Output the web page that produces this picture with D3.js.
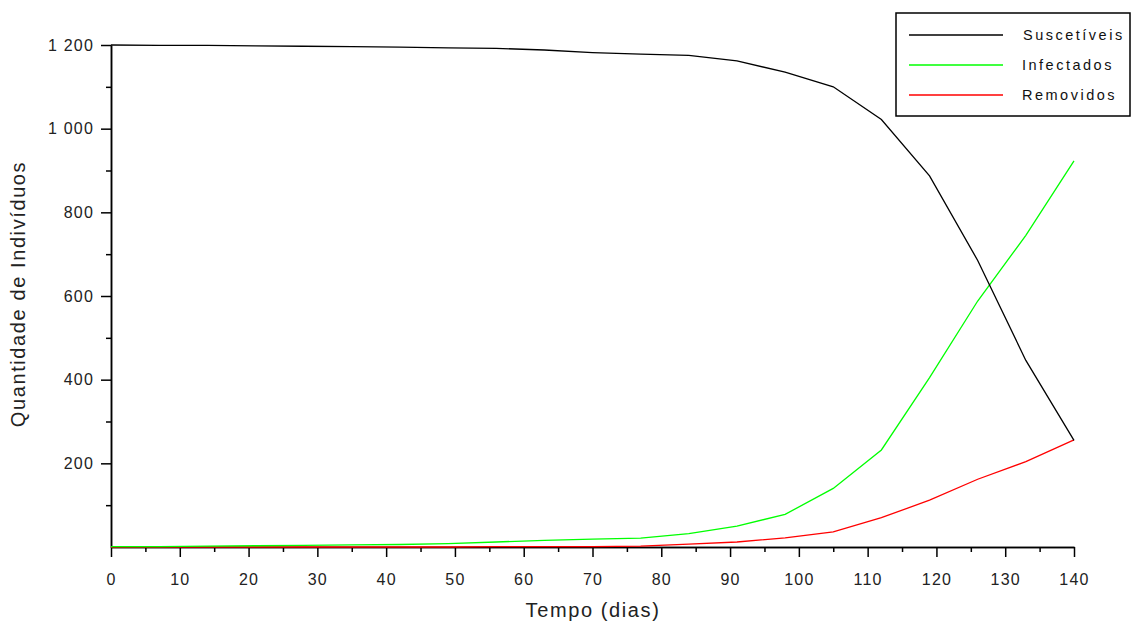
<!DOCTYPE html>
<meta charset="utf-8">
<style>

body {
  margin: 0;
  background: #fff;
}

.axis path,
.axis line {
  fill: none;
  stroke: #000;
  stroke-width: 1.5px;
}

.axis text {
  font: 16px "Liberation Sans", Arial, sans-serif;
  letter-spacing: 1.2px;
  fill: #222;
}

.line {
  fill: none;
  stroke-width: 1.3px;
}

.label {
  font: 20px "Liberation Sans", Arial, sans-serif;
  letter-spacing: 1.6px;
  fill: #222;
}

.legend text {
  font: 14.5px "Liberation Sans", Arial, sans-serif;
  letter-spacing: 2.5px;
  fill: #111;
}

</style>
<body>
<script src="https://d3js.org/d3.v7.min.js"></script>
<script>

// Data (one point every 7 days)
var dias = [0, 7, 14, 21, 28, 35, 42, 49, 56, 63, 70, 77, 84, 91, 98, 105, 112, 119, 126, 133, 140];
var suscetiveis = [1200, 1199, 1199, 1198, 1197, 1196, 1195, 1193, 1192, 1188, 1182, 1178, 1175, 1162, 1135, 1100, 1022, 887, 685, 446, 255];
var infectados = [1, 1, 2, 3, 4, 5, 6, 8, 12, 16, 19, 21, 32, 50, 78, 140, 232, 405, 588, 745, 923];
var removidos = [0, 0, 0, 0, 0, 0, 0, 0, 1, 1, 1, 2, 7, 12, 22, 36, 70, 112, 162, 204, 256];

var seriesNames = ["Suscetíveis", "Infectados", "Removidos"];
var seriesColors = ["#000000", "#00ff00", "#ff0000"];

var xMajor = d3.range(0, 141, 10);
var xMinor = d3.range(5, 141, 10);
var yMajor = [200, 400, 600, 800, 1000, 1200];
var yMinor = [100, 300, 500, 700, 900, 1100];

// Set up the bounds of the visualization
var margin = {top: 45, right: 58, bottom: 77, left: 111};
var width = 1132 - margin.left - margin.right;
var height = 624 - margin.top - margin.bottom;

var x = d3.scaleLinear().domain([0, 140]).range([0, width]);
var y = d3.scaleLinear().domain([0, 1200]).range([height, 0]);

var svg = d3.select("body").append("svg")
            .attr("width", 1132)
            .attr("height", 624);

var g = svg.append("g")
           .attr("transform", "translate(" + margin.left + "," + margin.top + ")");

// minor ticks first, then the labelled axes on top
g.append("g")
 .attr("class", "x axis")
 .attr("transform", "translate(0," + height + ")")
 .call(d3.axisBottom(x).tickValues(xMinor).tickSize(5).tickSizeOuter(0).tickFormat(""));

g.append("g")
 .attr("class", "y axis")
 .call(d3.axisLeft(y).tickValues(yMinor).tickSize(5).tickSizeOuter(0).tickFormat(""));

g.append("g")
 .attr("class", "x axis")
 .attr("transform", "translate(0," + height + ")")
 .call(d3.axisBottom(x).tickValues(xMajor).tickSize(10).tickSizeOuter(0).tickPadding(17));

var fmt = d3.format(",");
g.append("g")
 .attr("class", "y axis")
 .call(d3.axisLeft(y).tickValues(yMajor).tickSize(10).tickSizeOuter(0).tickPadding(7)
   .tickFormat(function(d) { return fmt(d).replace(",", " "); }));

// axis titles (kept just inside the bottom edge)
svg.append("text")
   .attr("class", "label")
   .attr("x", 593)
   .attr("y", 617)
   .style("text-anchor", "middle")
   .text("Tempo (dias)");

svg.append("text")
   .attr("class", "label")
   .attr("transform", "translate(25,294) rotate(-90)")
   .style("text-anchor", "middle")
   .text("Quantidade de Indivíduos");

// the three curves
var line = d3.line()
             .x(function(d) { return x(d[0]); })
             .y(function(d) { return y(d[1]); });

var allSeries = [removidos, infectados, suscetiveis];
var allColors = [seriesColors[2], seriesColors[1], seriesColors[0]];

allSeries.forEach(function(vals, i) {
  g.append("path")
   .datum(dias.map(function(d, j) { return [d, vals[j]]; }))
   .attr("class", "line")
   .style("stroke", allColors[i])
   .attr("d", line);
});

// legend box
var legend = svg.append("g").attr("class", "legend");

legend.append("rect")
      .attr("x", 896)
      .attr("y", 13)
      .attr("width", 234)
      .attr("height", 103)
      .style("fill", "#fff")
      .style("stroke", "#000")
      .style("stroke-width", 1.5);

var item = legend.selectAll(".item")
                 .data(seriesNames)
                 .enter().append("g")
                 .attr("class", "item")
                 .attr("transform", function(d, i) {
                   return "translate(0," + (35 + i * 30) + ")";
                 });

item.append("line")
    .attr("x1", 909)
    .attr("x2", 1003)
    .style("stroke", function(d, i) { return seriesColors[i]; })
    .style("stroke-width", 1.3);

item.append("text")
    .attr("x", function(d, i) { return i == 0 ? 1023 : 1022; })
    .attr("dy", "0.35em")
    .text(function(d) { return d; });

</script>
